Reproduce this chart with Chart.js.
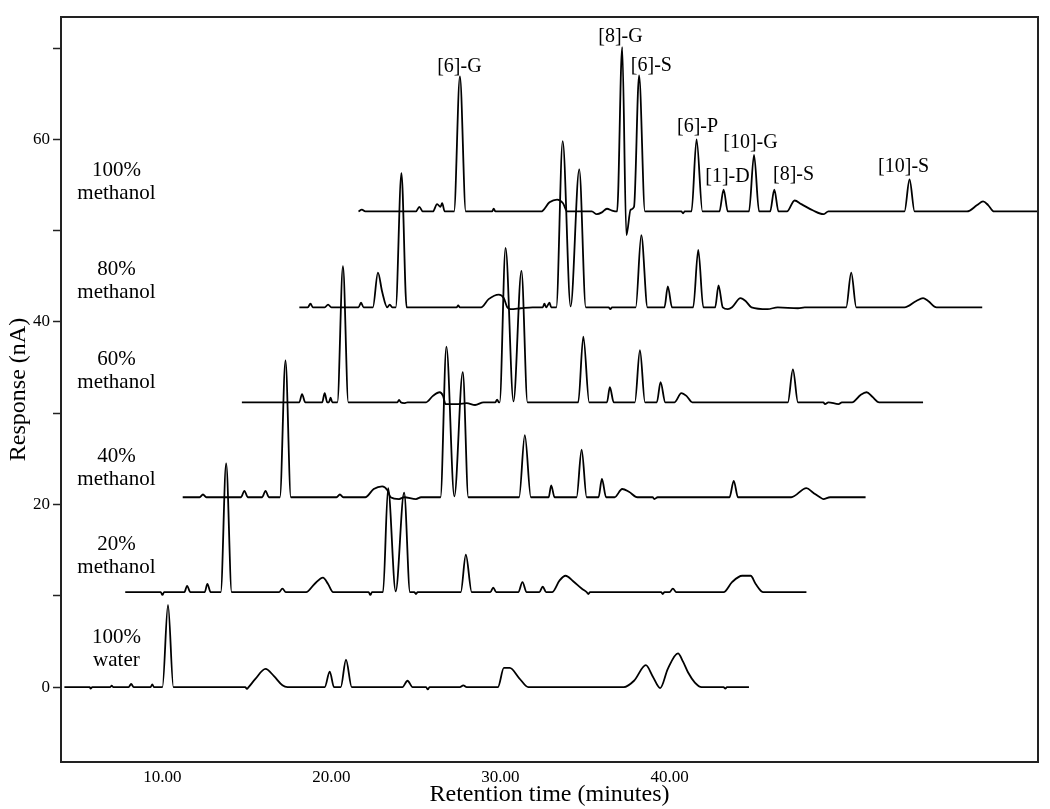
<!DOCTYPE html>
<html>
<head>
<meta charset="utf-8">
<title>Chromatograms</title>
<script src="https://cdn.jsdelivr.net/npm/chart.js@4.4.1/dist/chart.umd.min.js"></script>
<style>
  html, body { margin: 0; padding: 0; background: #fff; }
  #chromChart { display: block; }
</style>
</head>
<body>
<canvas id="chromChart" width="1050" height="809"></canvas>
<script>
// tick values on the axes
const xTicks = [10, 20, 30, 40];
const yTicks = [0, 10, 20, 30, 40, 50, 60, 70];

// chromatogram traces, [retention time (min), response (nA)]
const water100 = [
    [4.2, 0], [5.7, 0], [5.75, -0.15], [5.85, 0], [6.9, 0], [7.0, 0.15], [7.1, 0],
    [8.0, 0], [8.15, 0.35], [8.3, 0], [9.3, 0], [9.4, 0.3], [9.5, 0],
    [10.0, 0], [10.33, 9.0], [10.65, 0],
    [14.9, 0], [15.0, -0.2], [15.1, 0], [15.5, 0.9], [16.1, 2.0], [16.6, 1.2], [17.1, 0.2], [17.4, 0],
    [19.6, 0], [19.9, 1.7], [20.15, 0], [20.55, 0], [20.86, 3.0], [21.2, 0],
    [24.2, 0], [24.5, 0.7], [24.8, 0], [25.6, 0], [25.7, -0.25], [25.8, 0],
    [27.6, 0], [27.8, 0.2], [28.0, 0],
    [29.85, 0], [30.2, 2.1], [30.55, 2.1], [31.1, 1.0], [31.65, 0],
    [37.3, 0], [37.9, 0.7], [38.6, 2.4], [39.0, 1.2], [39.45, -0.1], [39.9, 2.0], [40.5, 3.7],
    [40.8, 2.8], [41.1, 1.6], [41.5, 0.5], [41.9, 0],
    [43.2, 0], [43.3, -0.15], [43.4, 0], [44.7, 0]
];

const methanol20 = [
    [7.8, 10.4], [9.9, 10.4], [10.0, 10.1], [10.1, 10.4],
    [11.3, 10.4], [11.46, 11.1], [11.65, 10.4], [12.5, 10.4], [12.66, 11.3], [12.85, 10.4],
    [13.45, 10.4], [13.77, 24.5], [14.1, 10.4],
    [16.9, 10.4], [17.1, 10.8], [17.3, 10.4],
    [18.5, 10.4], [19.0, 11.3], [19.5, 12.0], [19.8, 11.3], [20.1, 10.4],
    [22.2, 10.4], [22.3, 10.1], [22.4, 10.4],
    [23.05, 10.4], [23.35, 21.8], [23.8, 10.5], [24.3, 21.3], [24.65, 10.4],
    [24.9, 10.4], [25.0, 10.2], [25.1, 10.4],
    [27.65, 10.4], [27.95, 14.5], [28.3, 10.4],
    [29.4, 10.4], [29.57, 10.9], [29.75, 10.4],
    [31.05, 10.4], [31.3, 11.5], [31.55, 10.4], [32.3, 10.4], [32.5, 11.0], [32.7, 10.4],
    [33.05, 10.4], [33.5, 11.7], [33.85, 12.2], [34.3, 11.6], [34.8, 10.8], [35.1, 10.4],
    [35.2, 10.2], [35.3, 10.4],
    [39.5, 10.4], [39.6, 10.2], [39.7, 10.4], [40.0, 10.4], [40.2, 10.8], [40.4, 10.4],
    [43.2, 10.4], [43.7, 11.5], [44.3, 12.2], [44.8, 12.2], [45.1, 11.3], [45.55, 10.4],
    [48.1, 10.4]
];

const methanol40 = [
    [11.2, 20.8], [12.2, 20.8], [12.4, 21.1], [12.6, 20.8],
    [14.65, 20.8], [14.85, 21.5], [15.05, 20.8], [15.9, 20.8], [16.1, 21.5], [16.3, 20.8],
    [16.95, 20.8], [17.28, 35.8], [17.6, 20.8],
    [20.3, 20.8], [20.5, 21.1], [20.7, 20.8],
    [22.0, 20.8], [22.5, 21.7], [23.0, 22.0], [23.3, 21.6], [23.5, 20.8],
    [24.0, 20.6], [24.3, 20.8], [25.0, 20.6], [25.3, 20.8],
    [26.45, 20.8], [26.8, 37.3], [27.27, 20.9], [27.77, 34.5], [28.1, 20.8],
    [31.1, 20.8], [31.44, 27.6], [31.8, 20.8],
    [32.85, 20.8], [33.0, 22.1], [33.2, 20.8],
    [34.5, 20.8], [34.8, 26.0], [35.1, 20.8],
    [35.8, 20.8], [36.0, 22.8], [36.25, 20.8],
    [36.75, 20.8], [37.2, 21.7], [37.6, 21.4], [38.1, 20.8],
    [39.0, 20.8], [39.1, 20.6], [39.3, 20.8],
    [43.55, 20.8], [43.8, 22.6], [44.05, 20.8],
    [47.2, 20.8], [48.1, 21.8], [48.5, 21.3], [48.9, 20.8], [49.1, 20.6], [49.5, 20.8],
    [51.6, 20.8]
];

const methanol60 = [
    [14.7, 31.2], [18.1, 31.2], [18.26, 32.1], [18.45, 31.2],
    [19.45, 31.2], [19.6, 32.2], [19.75, 31.2], [19.85, 31.2], [19.95, 31.7], [20.05, 31.2],
    [20.35, 31.2], [20.68, 46.1], [21.0, 31.2],
    [23.9, 31.2], [24.0, 31.45], [24.1, 31.2], [24.3, 31.1], [24.5, 31.2],
    [25.6, 31.2], [26.0, 31.9], [26.4, 32.3], [26.6, 31.9], [26.75, 31.0],
    [27.5, 31.0], [28.0, 31.1], [28.5, 30.9], [29.0, 31.2],
    [29.7, 31.2], [29.8, 31.5], [29.9, 31.2],
    [29.95, 31.2], [30.3, 48.1], [30.77, 31.3], [31.24, 45.6], [31.6, 31.2],
    [34.6, 31.2], [34.9, 38.4], [35.25, 31.2],
    [36.3, 31.2], [36.47, 32.85], [36.7, 31.2],
    [37.95, 31.2], [38.25, 36.9], [38.55, 31.2],
    [39.25, 31.2], [39.47, 33.4], [39.75, 31.2],
    [40.3, 31.2], [40.7, 32.2], [41.0, 31.9], [41.35, 31.2],
    [47.0, 31.2], [47.3, 34.8], [47.6, 31.2],
    [49.1, 31.2], [49.2, 31.0], [49.4, 31.2], [50.0, 31.0], [50.2, 31.2],
    [50.8, 31.2], [51.3, 32.0], [51.66, 32.3], [52.0, 31.8], [52.4, 31.2],
    [55.0, 31.2]
];

const methanol80 = [
    [18.1, 41.6], [18.6, 41.6], [18.76, 42.0], [18.9, 41.6],
    [19.6, 41.6], [19.8, 41.9], [20.0, 41.6], [21.6, 41.6], [21.75, 42.1], [21.9, 41.6],
    [22.45, 41.6], [22.75, 45.4], [23.0, 43.3], [23.3, 41.6], [23.45, 41.9], [23.6, 41.6],
    [23.8, 41.6], [24.14, 56.3], [24.45, 41.6],
    [27.4, 41.6], [27.5, 41.8], [27.6, 41.6],
    [28.85, 41.6], [29.3, 42.5], [29.9, 43.0], [30.2, 42.6], [30.4, 41.6],
    [30.6, 41.4], [31.2, 41.5], [31.9, 41.6],
    [32.5, 41.6], [32.6, 42.0], [32.7, 41.6], [32.9, 42.1], [33.0, 41.6],
    [33.3, 41.6], [33.68, 59.8], [34.15, 41.7], [34.66, 56.7], [35.05, 41.6],
    [36.4, 41.6], [36.5, 41.4], [36.6, 41.6],
    [38.0, 41.6], [38.33, 49.5], [38.7, 41.6],
    [39.7, 41.6], [39.9, 43.9], [40.15, 41.6],
    [41.4, 41.6], [41.7, 47.9], [42.0, 41.6],
    [42.7, 41.6], [42.9, 44.0], [43.15, 41.6], [43.45, 41.4],
    [43.7, 41.6], [44.2, 42.6], [44.5, 42.3], [44.85, 41.6],
    [45.8, 41.4], [46.4, 41.6], [47.6, 41.5], [48.0, 41.6],
    [50.45, 41.6], [50.75, 45.4], [51.05, 41.6],
    [53.9, 41.6], [54.6, 42.3], [55.0, 42.6], [55.3, 42.3], [55.8, 41.6],
    [58.5, 41.6]
];

const methanol100 = [
    [21.6, 52.1], [21.8, 52.3], [22.0, 52.1],
    [25.0, 52.1], [25.2, 52.6], [25.4, 52.1],
    [26.0, 52.1], [26.25, 52.9], [26.45, 52.6], [26.55, 53.0], [26.7, 52.1],
    [27.25, 52.1], [27.6, 66.9], [27.95, 52.1],
    [29.5, 52.1], [29.6, 52.4], [29.7, 52.1],
    [32.4, 52.1], [32.9, 53.1], [33.35, 53.4], [33.7, 53.0], [33.95, 52.1],
    [35.4, 52.1], [35.7, 51.8], [36.0, 52.0], [36.3, 52.4], [36.6, 52.2],
    [36.9, 52.1], [37.2, 70.1], [37.45, 49.5], [37.7, 52.3], [37.9, 52.6],
    [38.2, 67.0], [38.55, 52.1],
    [40.7, 52.1], [40.8, 51.9], [40.9, 52.1],
    [41.3, 52.1], [41.6, 60.0], [41.95, 52.1],
    [42.95, 52.1], [43.2, 54.5], [43.45, 52.1],
    [44.7, 52.1], [45.0, 58.3], [45.3, 52.1],
    [45.95, 52.1], [46.2, 54.5], [46.45, 52.1],
    [46.95, 52.1], [47.4, 53.3], [47.8, 52.9], [48.5, 52.2], [49.1, 51.8], [49.4, 52.1],
    [53.9, 52.1], [54.2, 55.6], [54.5, 52.1],
    [57.6, 52.1], [58.2, 52.8], [58.55, 53.2], [58.85, 52.8], [59.2, 52.1],
    [61.8, 52.1]
];

// compound labels over the 100% methanol peaks (text centre in data units)
const peakNames = ['[6]-G', '[8]-G', '[6]-S', '[6]-P', '[10]-G', '[1]-D', '[8]-S', '[10]-S'];
const peakNameX = [27.57, 37.1, 38.93, 41.66, 44.79, 43.43, 47.34, 53.85];
const peakNameY = [67.9, 71.2, 68.1, 61.4, 59.6, 55.9, 56.1, 57.0];

// solvent labels on the left of each trace
const solventLabels = [['100%', 'methanol'], ['80%', 'methanol'], ['60%', 'methanol'],
                       ['40%', 'methanol'], ['20%', 'methanol'], ['100%', 'water']];
const solventLabelY = [55.3, 44.5, 34.6, 24.0, 14.4, 4.2];
const solventLabelX = 7.28;

const serif = "'Liberation Serif', 'Times New Roman', serif";

const traces = [water100, methanol20, methanol40, methanol60, methanol80, methanol100];

// draws the text labels and closes the frame (top + right sides)
const labelPlugin = {
    id: 'chromLabels',
    afterDatasetsDraw(chart) {
        const ctx = chart.ctx;
        const xs = chart.scales.x;
        const ys = chart.scales.y;
        const area = chart.chartArea;
        ctx.save();
        ctx.strokeStyle = '#222';
        ctx.lineWidth = 2;
        ctx.beginPath();
        ctx.moveTo(area.left, area.top);
        ctx.lineTo(area.right, area.top);
        ctx.lineTo(area.right, area.bottom);
        ctx.stroke();

        ctx.fillStyle = '#000';
        ctx.textAlign = 'center';
        ctx.textBaseline = 'middle';
        ctx.font = '20px ' + serif;
        peakNames.forEach((name, i) => {
            ctx.fillText(name, xs.getPixelForValue(peakNameX[i]), ys.getPixelForValue(peakNameY[i]));
        });

        ctx.font = '21px ' + serif;
        solventLabels.forEach((lines, i) => {
            const cx = xs.getPixelForValue(solventLabelX);
            const cy = ys.getPixelForValue(solventLabelY[i]);
            ctx.fillText(lines[0], cx, cy - 11.5);
            ctx.fillText(lines[1], cx, cy + 11.5);
        });
        ctx.restore();
    }
};

const ctx = document.getElementById('chromChart').getContext('2d');

const chromChart = new Chart(ctx, {
    type: 'line',
    data: {
        datasets: traces.map(t => ({
            data: t.map(p => ({ x: p[0], y: p[1] })),
            borderColor: '#000',
            borderWidth: 1.8,
            pointRadius: 0,
            fill: false,
            cubicInterpolationMode: 'monotone'
        }))
    },
    options: {
        responsive: false,
        animation: false,
        layout: { padding: { top: 17, right: 12, left: 0, bottom: 0 } },
        scales: {
            x: {
                type: 'linear',
                min: 4,
                max: 61.8,
                afterBuildTicks: scale => { scale.ticks = xTicks.map(v => ({ value: v })); },
                afterFit: scale => { scale.height = 47; },
                grid: { drawOnChartArea: false, drawTicks: false },
                border: { color: '#222', width: 2 },
                ticks: {
                    padding: 5,
                    color: '#000',
                    font: { family: serif, size: 17 },
                    callback: v => v.toFixed(2)
                },
                title: {
                    display: true,
                    text: 'Retention time (minutes)',
                    color: '#000',
                    font: { family: serif, size: 24 },
                    padding: { top: 0, bottom: 0 }
                }
            },
            y: {
                type: 'linear',
                min: -8.2,
                max: 73.4,
                afterBuildTicks: scale => { scale.ticks = yTicks.map(v => ({ value: v })); },
                afterFit: scale => { scale.width = 61; },
                grid: { drawOnChartArea: false, tickLength: 8, tickColor: '#222', tickWidth: 1.5 },
                border: { color: '#222', width: 2 },
                ticks: {
                    padding: 3,
                    color: '#000',
                    font: { family: serif, size: 17 },
                    callback: v => (v % 20 === 0 ? String(v) : '')
                },
                title: {
                    display: true,
                    text: 'Response (nA)',
                    color: '#000',
                    font: { family: serif, size: 24 },
                    padding: { top: 4, bottom: 0 }
                }
            }
        },
        plugins: {
            legend: { display: false },
            tooltip: { enabled: false }
        }
    },
    plugins: [labelPlugin]
});
</script>
</body>
</html>
